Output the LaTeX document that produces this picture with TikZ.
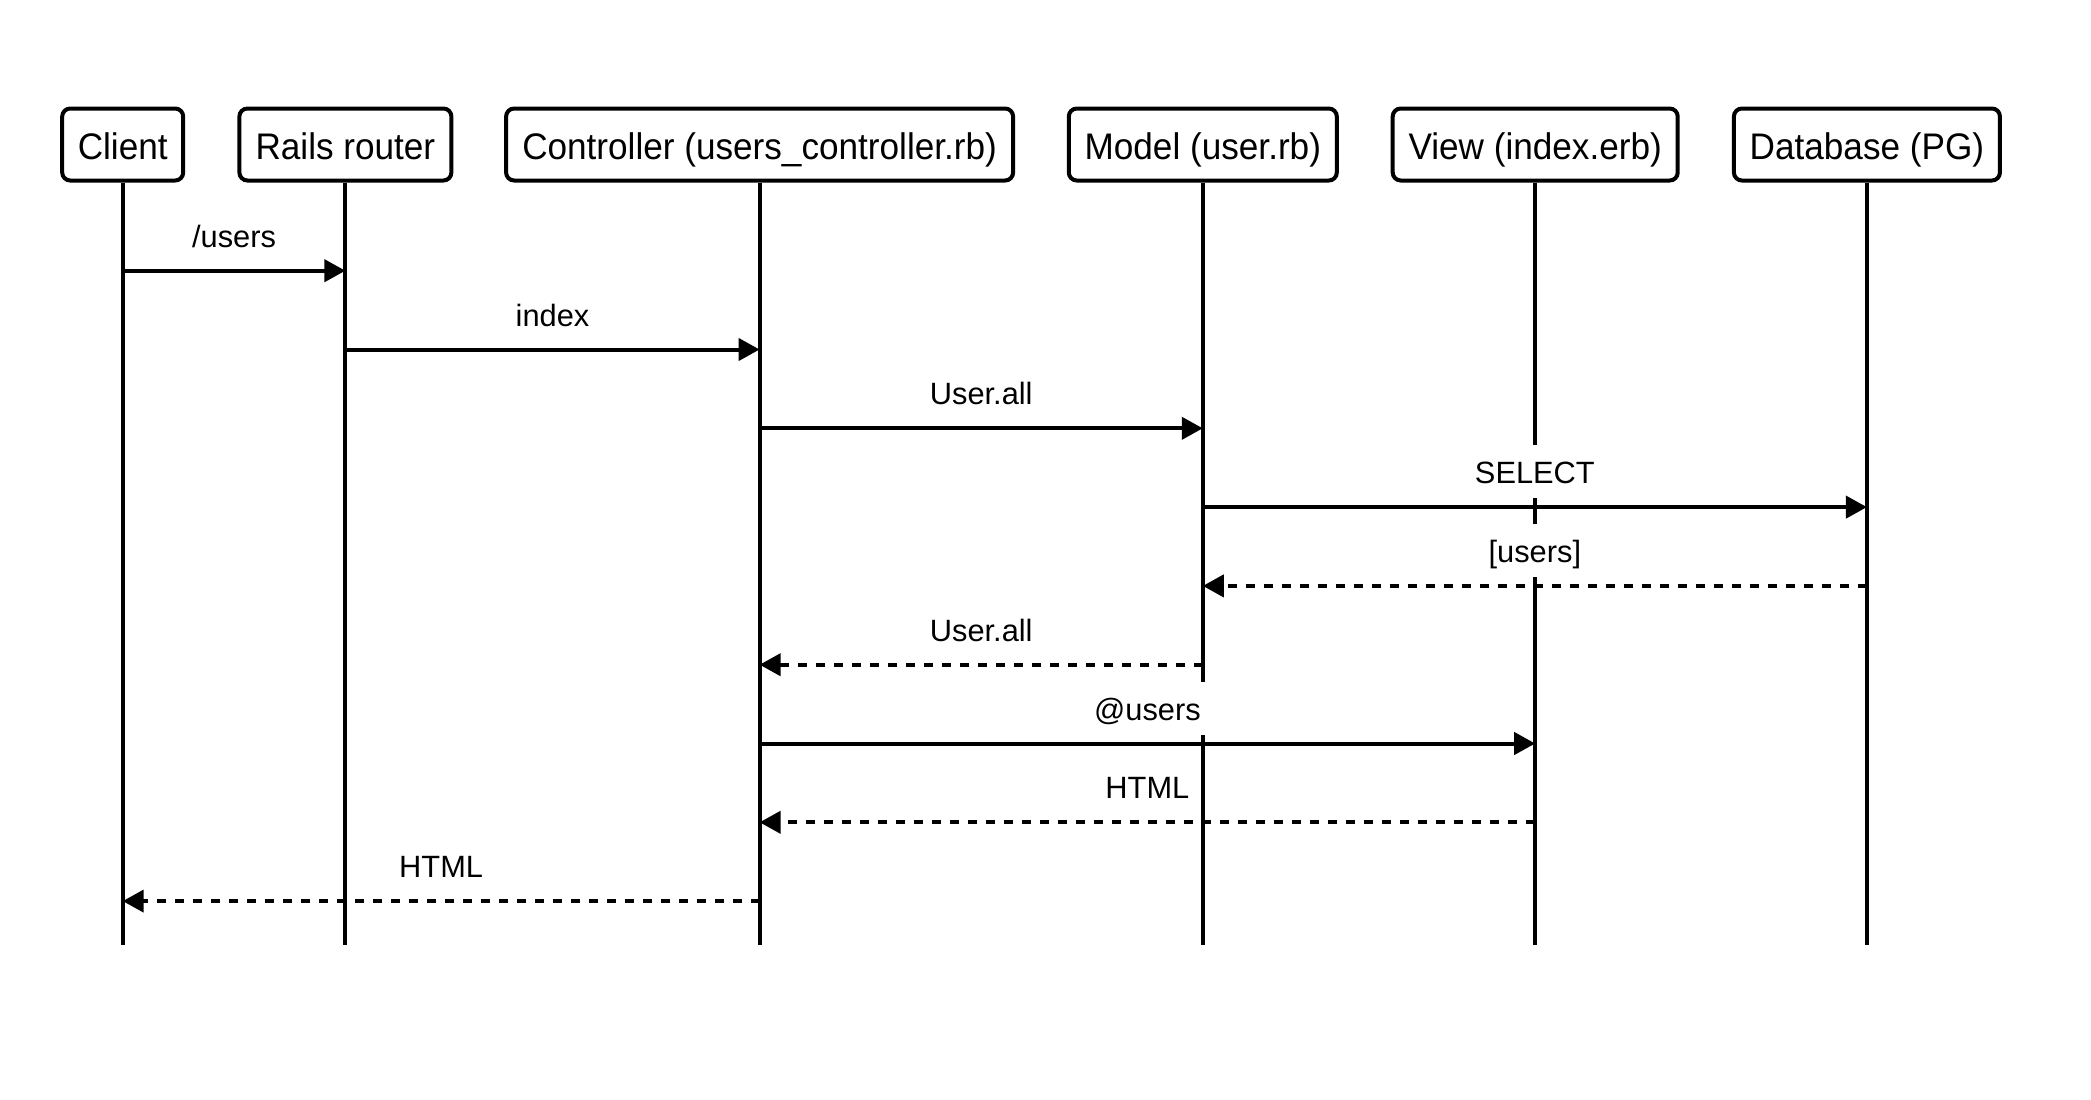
\documentclass[tikz,border=0pt]{standalone}
\usepackage{fontspec}
\setmainfont{Liberation Sans}
\newfontfamily\actorfont[FakeStretch=0.95]{Liberation Sans}
\usetikzlibrary{arrows.meta}
\begin{document}
\begin{tikzpicture}[x=0.5pt,y=-0.5pt,
  actor/.style={draw,line width=2pt,rounded corners=4pt,minimum height=36pt,inner xsep=0pt,text height=15.25pt,text depth=0pt,font=\actorfont\fontsize{18.5}{22}\selectfont},
  life/.style={line width=2pt},
  msg/.style={line width=2pt,-{Triangle[length=10.5pt,width=11pt]}},
  ret/.style={msg,dash pattern=on 4.5pt off 4.5pt},
  lbl/.style={fill=white,inner xsep=2pt,inner ysep=7.25pt,text height=12pt,text depth=0pt,yshift=17.75pt,font=\fontsize{15.4}{18}\selectfont}]
\useasboundingbox (0,0) rectangle (2091,1099);
% actors
\node[actor,minimum width=60.5pt] (client) at (122.7,144.5) {Client};
\node[actor,minimum width=106pt] (router) at (345.4,144.5) {Rails router};
\node[actor,minimum width=253.5pt] (ctrl) at (759.6,144.5) {Controller (users\_controller.rb)};
\node[actor,minimum width=134pt] (model) at (1202.8,144.5) {Model (user.rb)};
\node[actor,minimum width=142.5pt] (view) at (1535.2,144.5) {View (index.erb)};
\node[actor,minimum width=133pt] (db) at (1866.9,144.5) {Database (PG)};
% bottom and rows
\coordinate (bottom) at (0,945);
\coordinate (r1) at (0,270.7);
\coordinate (r2) at (0,349.5);
\coordinate (r3) at (0,428.3);
\coordinate (r4) at (0,507.1);
\coordinate (r5) at (0,585.9);
\coordinate (r6) at (0,664.7);
\coordinate (r7) at (0,743.5);
\coordinate (r8) at (0,822.3);
\coordinate (r9) at (0,901.1);
% lifelines
\foreach \a in {client,router,ctrl,model,view,db}
  \draw[life] (\a.south) -- (\a.south |- bottom);
% messages
\draw[msg] (client |- r1) -- node[lbl]{/users} (router |- r1);
\draw[msg] (router |- r2) -- node[lbl]{index} (ctrl |- r2);
\draw[msg] (ctrl |- r3) -- node[lbl]{User.all} (model |- r3);
\draw[msg] (model |- r4) -- node[lbl]{SELECT} (db |- r4);
\draw[ret] (db |- r5) -- node[lbl]{[users]} (model |- r5);
\draw[ret] (model |- r6) -- node[lbl]{User.all} (ctrl |- r6);
\draw[msg] (ctrl |- r7) -- node[lbl]{@users} (view |- r7);
\draw[ret] (view |- r8) -- node[lbl]{HTML} (ctrl |- r8);
\draw[ret] (ctrl |- r9) -- node[lbl]{HTML} (client |- r9);
\end{tikzpicture}
\end{document}
